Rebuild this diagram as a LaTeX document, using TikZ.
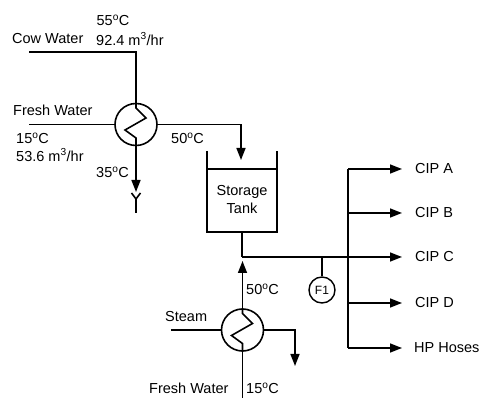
\documentclass[tikz,border=0pt]{standalone}
\usepackage{fontspec}
\setmainfont{Liberation Sans}
\usetikzlibrary{arrows.meta}
\tikzset{
  pipe/.style={line width=1.6pt},
  flow/.style={pipe,-{Triangle[length=12pt,width=9pt]}},
  hx/.style={circle,draw,line width=1.6pt,minimum size=42pt,inner sep=0pt},
  inst/.style={circle,draw,line width=1.4pt,minimum size=26pt,inner sep=0pt,font=\fontsize{12}{14}\selectfont},
  lbl/.style={inner sep=0pt,font=\fontsize{14.5}{16}\selectfont},
}
\newcommand{\dg}{\textsuperscript{o}C}
\begin{document}
\begin{tikzpicture}[x=1pt,y=-1pt]
\useasboundingbox (0,0) rectangle (480,398);
% top heat exchanger
\node[hx] (hx1) at (136,124.5) {};
\draw[pipe] (hx1.north) -- (136,108) -- (146,118) -- (125,130) -- (136,138) -- (hx1.south);
\coordinate (cw) at (29,52);
\draw[pipe] (cw) -| (hx1.north);
\coordinate (fw) at (29,124.5);
\draw[pipe] (fw) -- (hx1.west);
\coordinate (drain) at (136,192);
\draw[flow] (hx1.south) -- (drain);
\coordinate (y1) at (131.5,193);
\coordinate (y2) at (140.5,193);
\coordinate (yc) at (136,199);
\coordinate (yb) at (136,213);
\draw[pipe] (y1) -- (yc) -- (y2) (yc) -- (yb);
% storage tank
\coordinate (tl) at (207,151);
\coordinate (tr) at (277,151);
\coordinate (bl) at (207,232);
\coordinate (br) at (277,232);
\draw[pipe] (tl) -- (bl) -- (br) -- (tr);
\draw[pipe] (207,169) -- (277,169);
\node[lbl,align=center] (tank) at (242,200) {Storage\\[2pt]Tank};
\coordinate (tin) at (241,160);
\draw[flow] (hx1.east) -| (tin);
% outlet and distribution
\coordinate (tb) at (242,232);
\coordinate (jn) at (242,257);
\draw[pipe] (tb) -- (jn);
\coordinate (dx) at (348,257);
\node[lbl,anchor=west] (cipa) at (415,169) {CIP A};
\node[lbl,anchor=west] (cipb) at (415,213) {CIP B};
\node[lbl,anchor=west] (cipc) at (415,257) {CIP C};
\node[lbl,anchor=west] (cipd) at (415,303) {CIP D};
\node[lbl,anchor=west] (hp) at (414,348) {HP Hoses};
\coordinate (ta) at (402,169);
\coordinate (tbb) at (402,213);
\coordinate (tc) at (402,257);
\coordinate (td) at (402,303);
\coordinate (th) at (402,348);
\draw[flow] (jn) -- (tc);
\draw[pipe] (348,169) -- (348,348);
\draw[flow] (348,169) -- (ta);
\draw[flow] (348,213) -- (tbb);
\draw[flow] (348,303) -- (td);
\draw[flow] (348,348) -- (th);
\node[inst] (f1) at (322,290) {F1};
\draw[pipe] (322,257) -- (f1.north);
% bottom heat exchanger
\node[hx] (hx2) at (242.5,330) {};
\draw[pipe] (hx2.north) -- (242.5,313.5) -- (252.5,323.5) -- (231.5,335.5) -- (242.5,343.5) -- (hx2.south);
\coordinate (up) at (242.5,261);
\draw[flow] (hx2.north) -- (up);
\coordinate (st) at (171,330);
\draw[pipe] (st) -- (hx2.west);
\coordinate (so) at (295,366);
\draw[flow] (hx2.east) -| (so);
\coordinate (fwb) at (242.5,398);
\draw[pipe] (fwb) -- (hx2.south);
% labels
\node[lbl] (t55) at (113,20) {55\dg};
\node[lbl,anchor=west] (cwl) at (12,39) {Cow Water};
\node[lbl,anchor=west] (q1) at (96,39) {92.4 m\textsuperscript{3}/hr};
\node[lbl,anchor=west] (fwl) at (13,110) {Fresh Water};
\node[lbl,anchor=west] (t15) at (16,138) {15\dg};
\node[lbl,anchor=west] (q2) at (16,155) {53.6 m\textsuperscript{3}/hr};
\node[lbl,anchor=west] (t50a) at (171,138) {50\dg};
\node[lbl,anchor=west] (t35) at (96,172) {35\dg};
\node[lbl,anchor=west] (stl) at (165,317) {Steam};
\node[lbl,anchor=west] (t50b) at (246,289) {50\dg};
\node[lbl,anchor=west] (fwl2) at (149,388) {Fresh Water};
\node[lbl,anchor=west] (t15b) at (246,388) {15\dg};
\end{tikzpicture}
\end{document}
